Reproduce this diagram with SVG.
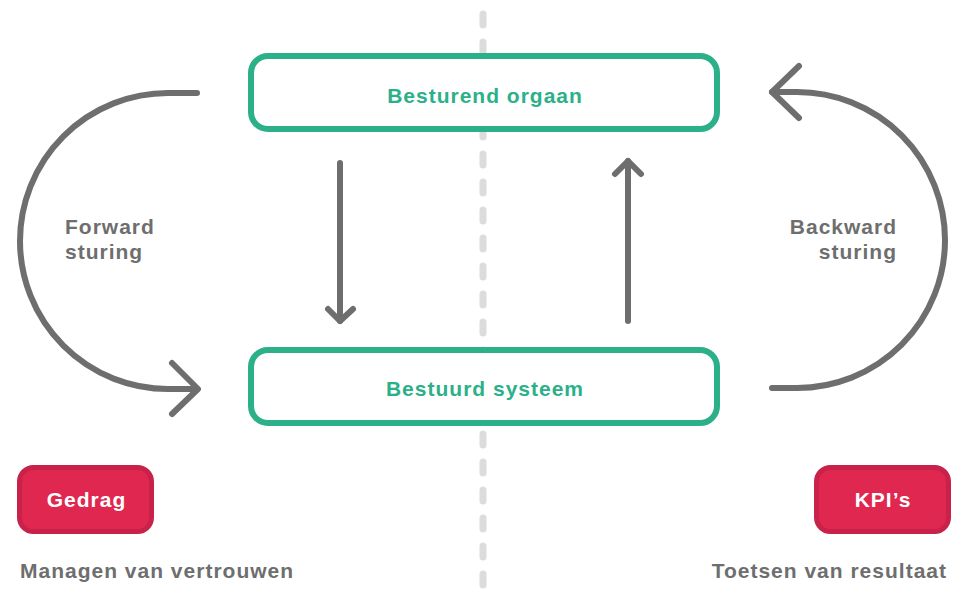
<svg xmlns="http://www.w3.org/2000/svg" width="956" height="598" viewBox="0 0 956 598">
<style>
.conn{fill:none;stroke:#6e6e6e;stroke-width:6;stroke-linecap:round;stroke-linejoin:round}
.box{fill:#fff;stroke:#2bb089;stroke-width:6}
.btxt{font-family:"Liberation Sans",Arial,sans-serif;font-weight:bold;font-size:21px;letter-spacing:1px;fill:#2bb089;text-anchor:middle}
.tag{fill:#e0274f;stroke:#c8224a;stroke-width:5}
.ttxt{font-family:"Liberation Sans",Arial,sans-serif;font-weight:bold;font-size:21px;letter-spacing:1px;fill:#fff;text-anchor:middle}
.lbl{font-family:"Liberation Sans",Arial,sans-serif;font-weight:bold;font-size:21px;letter-spacing:1px;fill:#6e6e6e}
</style>
<line x1="483" y1="14" x2="483" y2="598" stroke="#dcdcdc" stroke-width="7" stroke-linecap="round" stroke-dasharray="11 17"/>
<g id="connectors">
<path class="conn" d="M197 93 H168 A148 148 0 0 0 168 389 H197"/>
<path class="conn" d="M172 363 L198 389 L172 414"/>
<path class="conn" d="M772 388 H797 A148 148 0 0 0 797 92 H772"/>
<path class="conn" d="M799 66 L772 92 L799 118"/>
<line class="conn" x1="340" y1="163" x2="340" y2="321"/>
<path class="conn" d="M328 309 L340 321 L353 309"/>
<line class="conn" x1="628" y1="321" x2="628" y2="161"/>
<path class="conn" d="M615 174 L628 161 L641 174"/>
</g>
<g id="besturend-orgaan">
<rect class="box" x="251" y="56" width="466" height="73" rx="17"/>
<text class="btxt" x="485" y="103">Besturend orgaan</text>
</g>
<g id="bestuurd-systeem">
<rect class="box" x="251" y="350" width="466" height="73" rx="17"/>
<text class="btxt" x="485" y="396">Bestuurd systeem</text>
</g>
<g id="forward-label">
<text class="lbl" x="65" y="234">Forward</text>
<text class="lbl" x="65" y="259">sturing</text>
</g>
<g id="backward-label">
<text class="lbl" x="897" y="234" text-anchor="end">Backward</text>
<text class="lbl" x="897" y="259" text-anchor="end">sturing</text>
</g>
<g id="gedrag">
<rect class="tag" x="19.5" y="467.5" width="132" height="64" rx="14"/>
<text class="ttxt" x="86.5" y="507">Gedrag</text>
</g>
<g id="kpis">
<rect class="tag" x="816.5" y="467.5" width="132" height="64" rx="14"/>
<text class="ttxt" x="883" y="507">KPI’s</text>
</g>
<g id="footer-left">
<text class="lbl" x="20" y="578">Managen van vertrouwen</text>
</g>
<g id="footer-right">
<text class="lbl" x="947" y="578" text-anchor="end">Toetsen van resultaat</text>
</g>
</svg>
